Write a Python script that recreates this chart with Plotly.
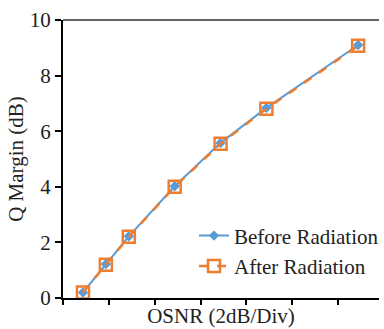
import plotly.graph_objects as go

osnr = [1, 2, 3, 5, 7, 9, 13]
before = [0.2, 1.22, 2.22, 4.02, 5.58, 6.84, 9.1]
after = [0.2, 1.2, 2.2, 4.0, 5.55, 6.81, 9.07]
series_names = ["Before Radiation", "After Radiation"]
y_ticks = [0, 2, 4, 6, 8, 10]

BLUE = "#5B9BD5"
ORANGE = "#ED7D31"
FONT = "Liberation Serif, Times New Roman, serif"

fig = go.Figure()
fig.add_trace(go.Scatter(
    x=osnr, y=before, name=series_names[0], mode="lines+markers",
    line=dict(color=BLUE, width=2),
    marker=dict(symbol="diamond", size=8, color=BLUE),
))
fig.add_trace(go.Scatter(
    x=osnr, y=after, name=series_names[1], mode="lines+markers",
    line=dict(color=ORANGE, width=2.5, dash="dash"),
    marker=dict(symbol="square-open", size=12, color=ORANGE, line=dict(width=2.5, color=ORANGE)),
))

fig.update_layout(
    width=384, height=329, autosize=False,
    margin=dict(l=63, r=0, t=20, b=31),
    paper_bgcolor="white", plot_bgcolor="white",
    font=dict(family=FONT, size=21, color="#222222"),
    showlegend=True,
    legend=dict(
        x=0.415, y=0.297, xanchor="left", yanchor="top",
        bgcolor="rgba(0,0,0,0)", font=dict(size=21, family=FONT, color="#222222"),
        tracegroupgap=0, itemwidth=30,
    ),
    xaxis=dict(
        range=[0.13, 13.91], showgrid=False, zeroline=False,
        showline=True, linecolor="black", linewidth=2,
        ticks="outside", ticklen=5, tickwidth=1.5, tickcolor="black",
        tick0=0.13, dtick=2, showticklabels=False,
        title=dict(text="OSNR (2dB/Div)", standoff=4, font=dict(size=21, family=FONT)),
    ),
    yaxis=dict(
        range=[0, 10], showgrid=False, zeroline=False,
        showline=True, linecolor="black", linewidth=2,
        ticks="outside", ticklen=6, tickwidth=1.5, tickcolor="black",
        tickvals=y_ticks, tickfont=dict(size=21, family=FONT),
        title=dict(text="Q Margin (dB)", standoff=0, font=dict(size=21, family=FONT)),
    ),
    shapes=[dict(type="line", xref="paper", yref="paper", x0=0, x1=1, y0=1, y1=1,
                 line=dict(color="#333333", width=1.5))],
)

fig.write_html("out.html", config={"displayModeBar": False},
               post_script="document.body.style.margin='0';document.body.style.overflow='hidden';")
